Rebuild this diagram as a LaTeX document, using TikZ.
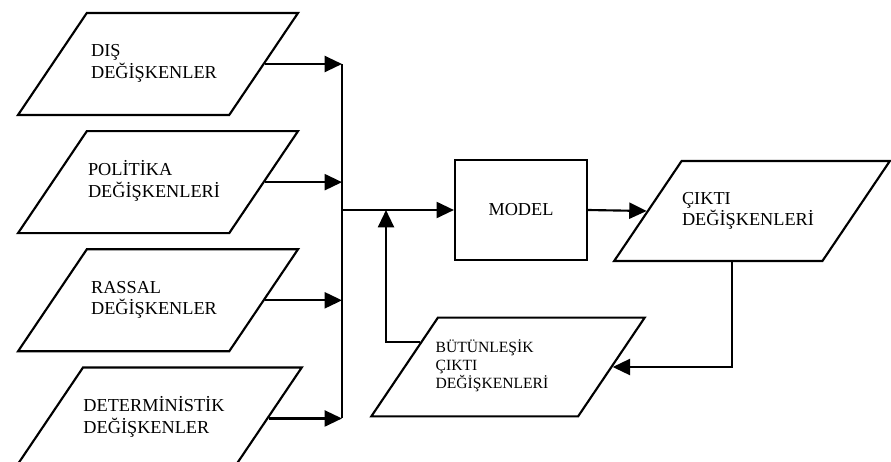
\documentclass[tikz,border=0pt]{standalone}
\usepackage{fontspec}
\setmainfont{Liberation Serif}
\usetikzlibrary{shapes.geometric,arrows.meta,chains,positioning}

\newcommand{\lns}[2][0pt]{\begin{tabular}{@{\hspace{-#1}}l@{\hspace{#1}}}#2\end{tabular}}

\tikzset{
  para/.style={draw,line width=1.6pt,trapezium,trapezium left angle=56,
    trapezium right angle=124,trapezium stretches body,
    minimum width=210pt,inner ysep=0pt,text height=41.6pt,text depth=34.9pt,
    font=\fontsize{13.7}{15}\selectfont},
  flow/.style={line width=1.6pt,-{Triangle[length=13pt,width=12pt]}}
}

\begin{document}
\begin{tikzpicture}[x=0.75pt,y=-0.75pt]
\useasboundingbox (0,0) rectangle (891,461);

\begin{scope}[shift={(158,64)},start chain=going below,node distance=10.5pt]
\def\dlist{1/{DIŞ\\DEĞİŞKENLER},2/{POLİTİKA\\DEĞİŞKENLERİ},3/{RASSAL\\DEĞİŞKENLER},4/{DETERMİNİSTİK\\DEĞİŞKENLER}}
\foreach \i / \element in \dlist
  \node [para,on chain] (d\i) {\lns[3pt]{\element}};
\end{scope}

\node [draw,line width=1.6pt,minimum width=99pt,minimum height=75pt,
  font=\fontsize{13.7}{15}\selectfont] (model) at (521,210) {MODEL};
\node [para,minimum width=203pt,text height=40.9pt,text depth=34.1pt]
  (cikti) at (752,211) {\lns[3pt]{ÇIKTI\\DEĞİŞKENLERİ}};
\node [para,minimum width=205pt,text height=39.9pt,text depth=34.1pt,
  font=\fontsize{11.7}{13.5}\selectfont] (butun) at (508,367)
  {\lns[12pt]{BÜTÜNLEŞİK\\ÇIKTI\\DEĞİŞKENLERİ}};

\coordinate (bus) at (342,0);
\coordinate (fb) at (386,0);

\foreach \i in {1,...,4}
  \draw [flow] (d\i.east) -- (d\i.east -| bus);
\draw [line width=1.6pt] (d1.east -| bus) -- (d4.east -| bus);

\draw [flow] (bus |- model.west) -- (model.west);
\draw [flow] (model.east) -- (cikti.west);
\draw [flow] (cikti.-111) |- (butun.east);
\draw [flow] (butun.164) -| (fb |- model.west);

\end{tikzpicture}
\end{document}
